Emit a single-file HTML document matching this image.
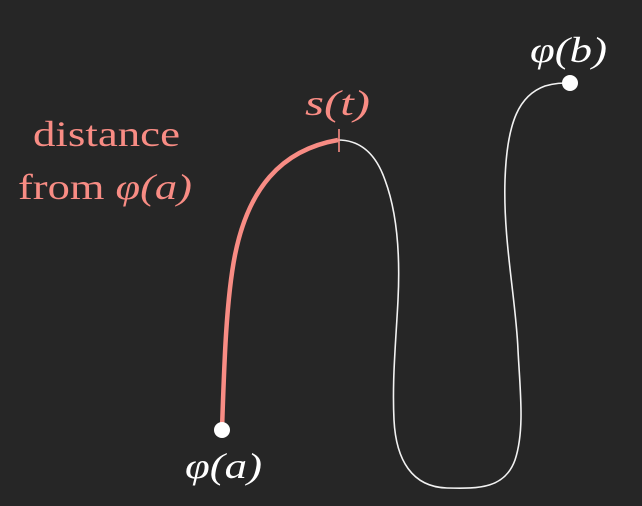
<!DOCTYPE html>
<html><head><meta charset="utf-8"><style>
html,body{margin:0;padding:0;background:#262626;}
svg{display:block}
text{font-family:"Liberation Serif",serif;font-size:36px;}
.it{font-style:italic}
</style></head><body>
<svg width="642" height="506" viewBox="0 0 642 506">
<rect width="642" height="506" fill="#262626"/>
<path d="M338,140 C365,140 378,160 385,180 C398,215 400,260 398,300 C396,340 392,380 394,420 C396,460 412,487 447,488 C480,489 505,488 515,460 C525,430 520,390 518,350 C516,300 503,240 505,180 C507,120 520,95 545,86 C555,83 562,83 570,83" fill="none" stroke="#f2f2f2" stroke-width="1.6"/>
<path d="M222,430 C224,370 226,300 235,255 C248,190 280,150 338,140" fill="none" stroke="#f88c84" stroke-width="4.5"/>
<line x1="339" y1="129" x2="339" y2="152" stroke="#f88c84" stroke-width="1.6"/>
<circle cx="222" cy="430" r="8" fill="#fff"/>
<circle cx="570" cy="83" r="8" fill="#fff"/>
<text x="185" y="478" textLength="77" lengthAdjust="spacingAndGlyphs" fill="#fff" class="it">φ(a)</text>
<text x="530" y="62" textLength="77" lengthAdjust="spacingAndGlyphs" fill="#fff" class="it">φ(b)</text>
<text x="305" y="115" textLength="65" lengthAdjust="spacingAndGlyphs" fill="#f88c84" class="it">s(t)</text>
<text x="33" y="146" textLength="147" lengthAdjust="spacingAndGlyphs" fill="#f88c84">distance</text>
<text x="18" y="199" textLength="174" lengthAdjust="spacingAndGlyphs" fill="#f88c84">from <tspan class="it">φ(a)</tspan></text>
</svg>
</body></html>
